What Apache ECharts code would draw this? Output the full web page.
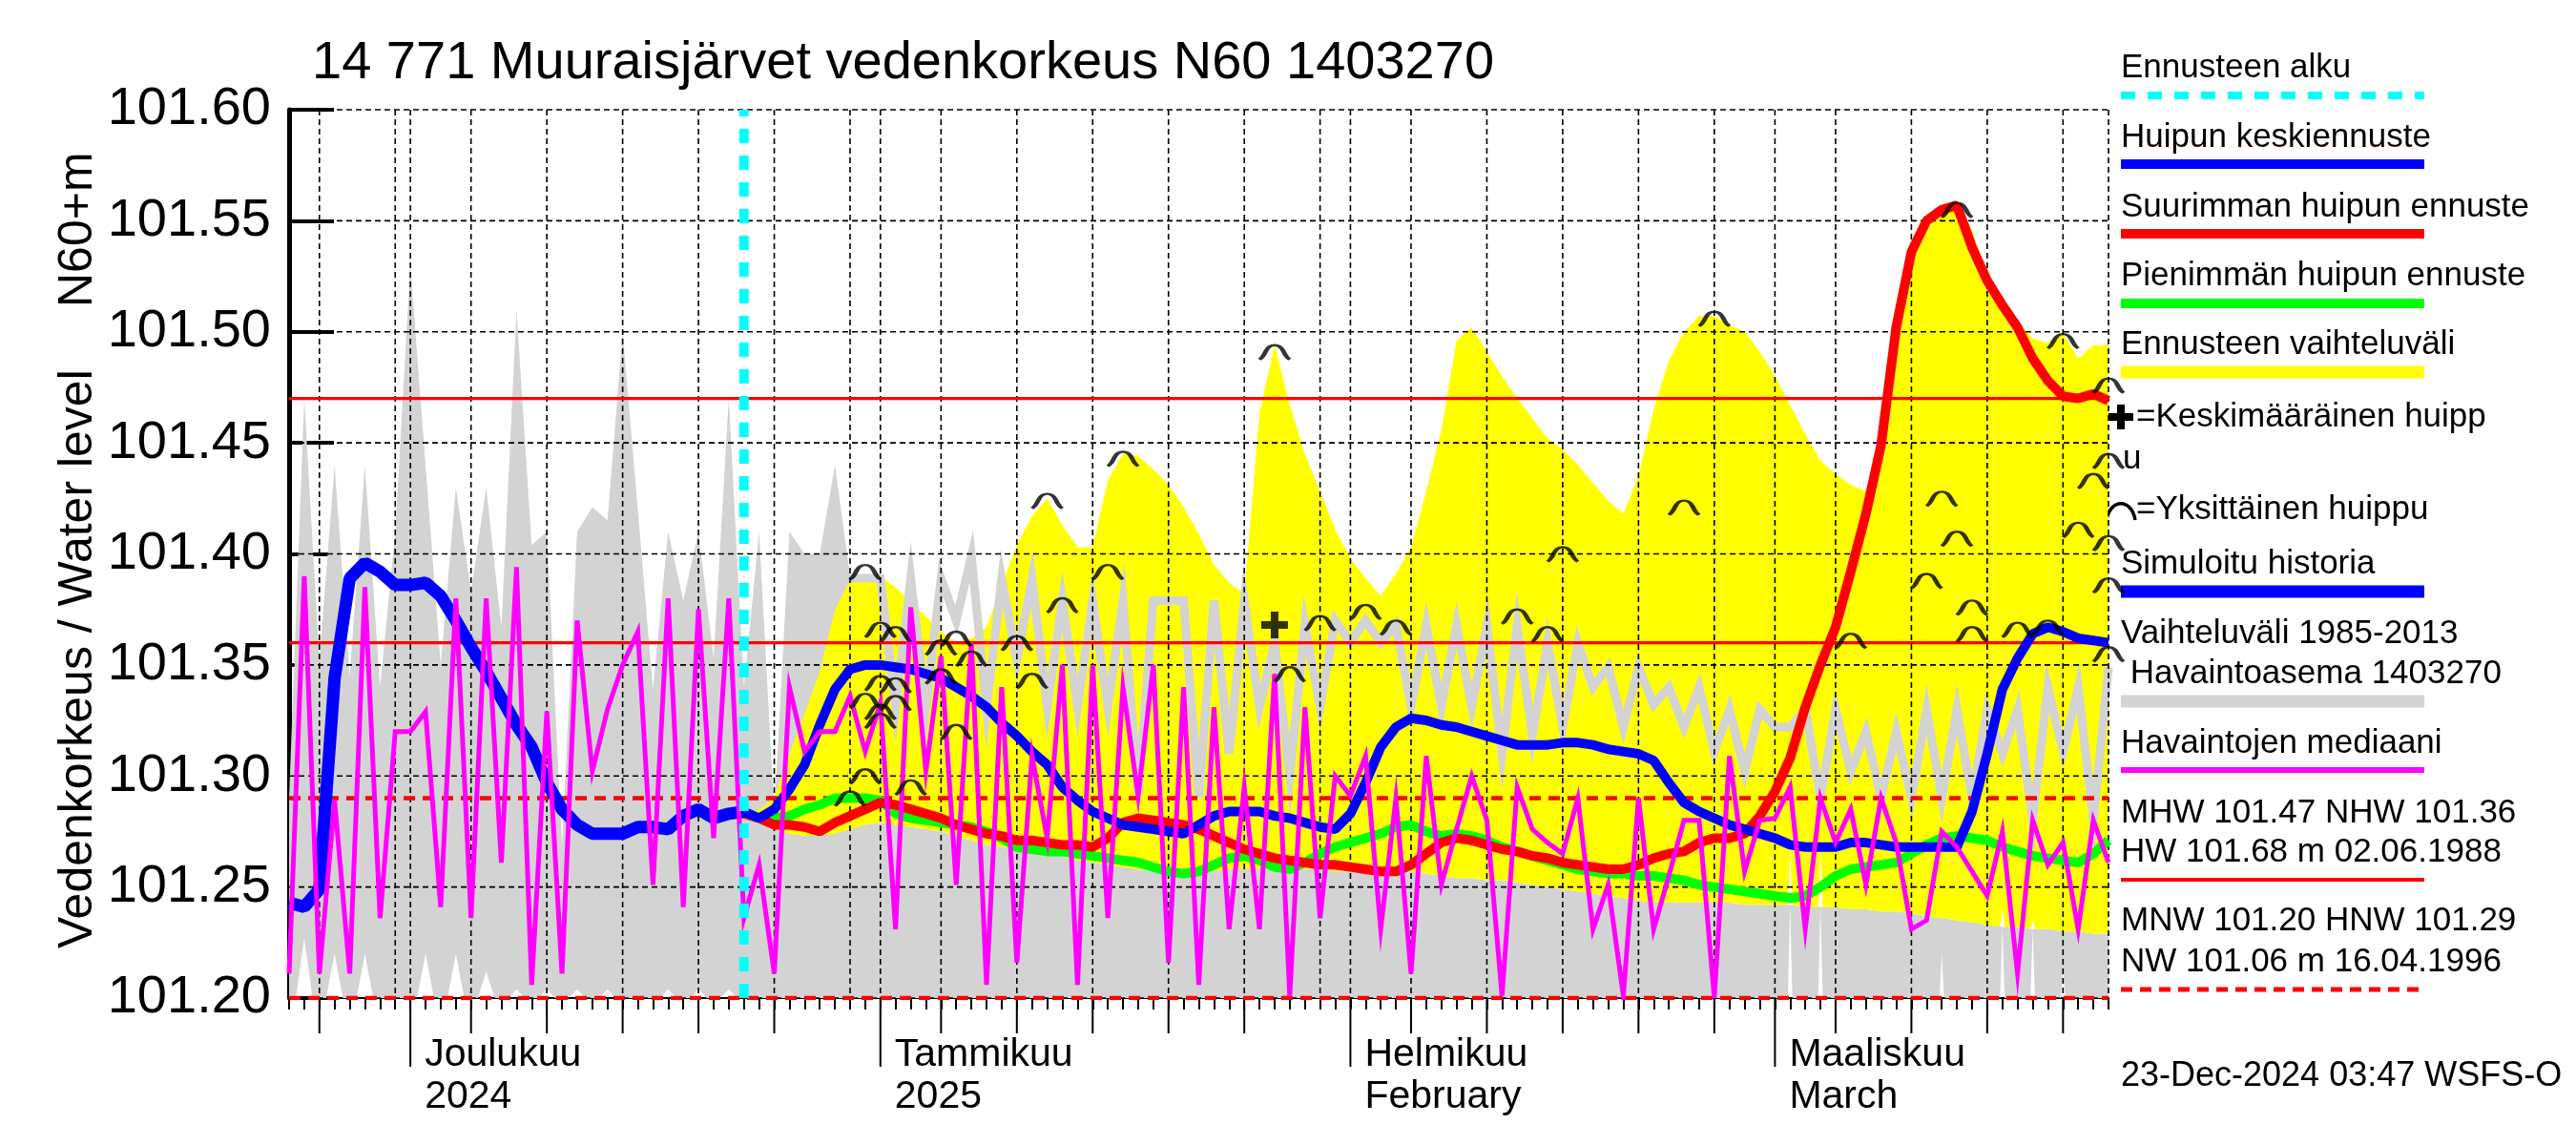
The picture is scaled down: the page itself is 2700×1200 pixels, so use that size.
<!DOCTYPE html>
<html>
<head>
<meta charset="utf-8">
<script src="https://cdn.jsdelivr.net/npm/echarts@6/dist/echarts.min.js"></script>
<style>html,body{margin:0;padding:0;background:#fff}#c{width:2700px;height:1200px}</style>
</head>
<body>
<div id="c"></div>
<script>
// ---------- data (x = day index from 23.11.2024) ----------
const startDate = '2024-11-23';
const X_MIN = 0, X_MAX = 120;
const Y_MIN = 101.20, Y_MAX = 101.60;
const yTicks = [101.20,101.25,101.30,101.35,101.40,101.45,101.50,101.55,101.60];
const forecastStart = 30; // 23.12.2024

// gridline / tick days
const gridDays = [2,7,8,12,17,22,27,32,37,39,43,48,53,58,63,68,70,74,79,84,89,94,98,102,107,112,117,120];
const midTickDays = [2,12,17,22,27,32,43,48,53,58,63,74,79,84,89,94,102,107,112,117];
const monthTickDays = [8,39,70,98];
const monthLabels = [['Joulukuu','2024'],['Tammikuu','2025'],['Helmikuu','February'],['Maaliskuu','March']];

// reference levels
const MHW = 101.47, NHW = 101.36, HNW = 101.29, MNW = 101.20;

// Vaihteluväli 1985-2013 (grey range) upper limit, daily d0..d120
const rangeUpper = [
101.29,101.47,101.352,101.44,101.345,101.44,101.34,101.41,101.53,101.44,
101.35,101.43,101.383,101.43,101.367,101.51,101.404,101.41,101.269,101.41,
101.421,101.415,101.50,101.42,101.339,101.41,101.379,101.41,101.353,101.47,
101.34,101.41,101.283,101.41,101.40,101.40,101.44,101.39,101.278,101.279,
101.278,101.277,101.276,101.275,101.273,101.271,101.269,101.268,101.267,101.266,
101.265,101.264,101.262,101.261,101.26,101.259,101.258,101.257,101.256,101.256,
101.257,101.257,101.258,101.258,101.258,101.258,101.258,101.258,101.258,101.257,
101.257,101.257,101.257,101.257,101.257,101.256,101.255,101.254,101.254,101.253,
101.253,101.252,101.251,101.25,101.249,101.248,101.247,101.246,101.245,101.244,
101.243,101.243,101.243,101.243,101.243,101.243,101.242,101.242,101.242,101.242,
101.241,101.241,101.241,101.24,101.24,101.239,101.239,101.238,101.237,101.236,
101.235,101.234,101.233,101.232,101.232,101.231,101.231,101.23,101.23,101.229,
101.229];
// lower limit is below the chart except for these days [day, level]
const rangeLowHistory = [[1,101.227],[3,101.22],[5,101.22],[9,101.22],[11,101.22],[13,101.212],
  [15,101.204],[17,101.204],[19,101.204],[21,101.204],[25,101.204],[27,101.204],[29,101.204]];
const rangeLowForecast = [[99,101.268],[101,101.268],[109,101.22],[113,101.24],[115,101.235],[117,101.213]];

// Havaintoasema 1403270 (grey line), from d37
const stationStart = 37;
const stationLine = [
101.389,101.389,101.389,
101.331,101.389,101.331,101.389,101.37,101.399,101.33,101.389,101.352,101.389,
101.331,101.379,101.331,101.379,101.331,101.379,101.292,101.379,101.379,101.379,
101.29,101.379,101.31,101.379,101.331,101.36,101.30,101.368,101.331,101.37,
101.36,101.37,101.36,101.368,101.331,101.368,101.331,101.368,101.331,101.368,
101.31,101.368,101.318,101.36,101.322,101.36,101.34,101.349,101.322,101.349,
101.332,101.34,101.322,101.34,101.311,101.33,101.302,101.33,101.322,101.322,
101.33,101.29,101.33,101.302,101.32,101.29,101.32,101.29,101.33,101.29,
101.33,101.29,101.33,101.31,101.33,101.28,101.34,101.311,101.34,101.28,101.349];

// Havaintojen mediaani (magenta), d0..d120
const median = [
101.211,101.39,101.211,101.289,101.211,101.385,101.236,101.32,101.32,101.329,
101.241,101.38,101.236,101.38,101.261,101.394,101.206,101.329,101.211,101.37,
101.302,101.33,101.35,101.365,101.251,101.38,101.241,101.375,101.272,101.38,
101.236,101.26,101.211,101.34,101.311,101.32,101.32,101.336,101.311,101.333,
101.231,101.376,101.302,101.354,101.251,101.36,101.206,101.34,101.216,101.309,
101.272,101.35,101.206,101.35,101.236,101.34,101.291,101.35,101.216,101.34,
101.206,101.331,101.231,101.295,101.231,101.346,101.201,101.331,101.236,101.30,
101.291,101.309,101.231,101.29,101.211,101.309,101.251,101.276,101.30,101.28,
101.201,101.295,101.276,101.27,101.265,101.29,101.231,101.251,101.201,101.29,
101.231,101.255,101.28,101.28,101.20,101.309,101.257,101.28,101.281,101.295,
101.231,101.29,101.27,101.285,101.251,101.29,101.27,101.231,101.235,101.275,
101.268,101.257,101.246,101.275,101.211,101.28,101.26,101.27,101.231,101.28,
101.261];

// Simuloitu historia (blue), d0..d30
const simHistory = [
101.243,101.241,101.249,101.344,101.389,101.396,101.392,101.386,101.386,101.387,
101.381,101.37,101.358,101.347,101.335,101.323,101.313,101.297,101.285,101.278,
101.274,101.274,101.274,101.277,101.277,101.276,101.282,101.285,101.281,101.283,
101.284];

// forecasts, d30..d120
const fcMean = [
101.284,101.281,101.285,101.294,101.305,101.323,101.339,101.348,101.35,101.35,
101.349,101.348,101.346,101.344,101.34,101.336,101.331,101.324,101.318,101.311,
101.305,101.295,101.289,101.284,101.281,101.278,101.277,101.276,101.275,101.274,
101.278,101.282,101.284,101.284,101.284,101.282,101.281,101.279,101.277,101.276,
101.283,101.297,101.313,101.322,101.326,101.325,101.323,101.322,101.32,101.318,
101.316,101.314,101.314,101.314,101.315,101.315,101.314,101.312,101.311,101.31,
101.307,101.297,101.288,101.284,101.281,101.278,101.276,101.274,101.272,101.269,
101.268,101.268,101.268,101.27,101.27,101.269,101.268,101.268,101.268,101.268,
101.268,101.284,101.31,101.339,101.353,101.364,101.367,101.365,101.362,101.361,
101.36];
const fcMax = [
101.283,101.281,101.278,101.278,101.277,101.275,101.279,101.282,101.285,101.288,
101.287,101.285,101.283,101.281,101.278,101.276,101.274,101.273,101.271,101.271,
101.27,101.269,101.269,101.268,101.272,101.279,101.281,101.28,101.279,101.278,
101.276,101.273,101.27,101.267,101.265,101.263,101.262,101.261,101.26,101.26,
101.259,101.258,101.257,101.257,101.26,101.265,101.27,101.272,101.271,101.269,
101.267,101.266,101.264,101.263,101.261,101.26,101.259,101.258,101.258,101.26,
101.263,101.265,101.266,101.27,101.272,101.272,101.274,101.282,101.293,101.308,
101.331,101.35,101.367,101.392,101.418,101.449,101.502,101.536,101.55,101.555,
101.557,101.538,101.523,101.512,101.502,101.488,101.478,101.471,101.47,101.472,
101.469];
const fcMin = [
101.283,101.281,101.281,101.282,101.285,101.287,101.29,101.29,101.29,101.289,
101.283,101.281,101.28,101.279,101.278,101.277,101.275,101.272,101.268,101.267,
101.266,101.266,101.265,101.264,101.263,101.262,101.261,101.259,101.257,101.256,
101.257,101.26,101.263,101.264,101.262,101.259,101.258,101.261,101.265,101.268,
101.27,101.272,101.274,101.277,101.278,101.275,101.273,101.274,101.273,101.271,
101.268,101.266,101.264,101.262,101.26,101.258,101.257,101.256,101.256,101.255,
101.255,101.254,101.253,101.251,101.25,101.249,101.248,101.247,101.246,101.245,
101.246,101.25,101.255,101.258,101.259,101.26,101.261,101.265,101.269,101.272,
101.273,101.272,101.271,101.268,101.266,101.264,101.263,101.262,101.261,101.265,
101.271];
// Ennusteen vaihteluväli (yellow), d30..d120
const bandUpper = [
101.283,101.285,101.29,101.31,101.328,101.347,101.375,101.388,101.391,101.39,
101.385,101.378,101.372,101.365,101.36,101.362,101.367,101.386,101.404,101.417,
101.425,101.413,101.403,101.403,101.433,101.445,101.444,101.438,101.431,101.421,
101.409,101.395,101.387,101.382,101.463,101.494,101.467,101.445,101.428,101.411,
101.398,101.389,101.381,101.391,101.403,101.428,101.456,101.496,101.502,101.491,
101.48,101.47,101.461,101.452,101.447,101.44,101.432,101.424,101.418,101.435,
101.465,101.487,101.50,101.507,101.507,101.503,101.50,101.491,101.48,101.467,
101.454,101.442,101.436,101.431,101.428,101.449,101.502,101.536,101.55,101.556,
101.558,101.546,101.525,101.514,101.505,101.497,101.495,101.499,101.488,101.494,
101.494];
const bandLower = [
101.283,101.279,101.276,101.274,101.273,101.273,101.274,101.276,101.278,101.279,
101.278,101.277,101.276,101.275,101.273,101.271,101.269,101.268,101.267,101.266,
101.265,101.264,101.262,101.261,101.26,101.259,101.258,101.257,101.256,101.256,
101.257,101.257,101.258,101.258,101.258,101.258,101.258,101.258,101.258,101.257,
101.257,101.257,101.257,101.257,101.257,101.256,101.255,101.254,101.254,101.253,
101.253,101.252,101.251,101.25,101.249,101.248,101.247,101.246,101.245,101.244,
101.243,101.243,101.243,101.243,101.243,101.243,101.242,101.242,101.242,101.242,
101.241,101.241,101.241,101.24,101.24,101.239,101.239,101.238,101.237,101.236,
101.235,101.234,101.233,101.232,101.232,101.231,101.231,101.23,101.23,101.229,
101.229];

// Yksittäinen huippu (single peaks) [day, level]
const singlePeaks = [
[38,101.395],[55,101.446],[50,101.427],[54,101.395],[51,101.38],[39,101.369],[40,101.367],
[43,101.361],[44,101.365],[45,101.356],[48,101.363],[49,101.346],[39,101.345],[40,101.344],
[43,101.348],[38,101.337],[39,101.332],[40,101.336],[39,101.328],[44,101.323],[38,101.303],
[41,101.298],[37,101.293],
[65,101.494],[68,101.372],[71,101.377],[73,101.37],[66,101.349],[81,101.375],[83,101.367],[84,101.403],
[94,101.509],[92,101.424],[110,101.558],[117,101.499],[120,101.479],[109,101.428],[120,101.445],
[119,101.436],[110,101.41],[118,101.414],[120,101.408],[108,101.391],[120,101.389],[111,101.379],
[111,101.367],[103,101.364],[114,101.369],[116,101.37],[120,101.358]];
// Keskimääräinen huippu (mean peak)
const meanPeak = [[65,101.368]];

// ---------- helpers ----------
const FONT = '"Liberation Sans", Arial, Helvetica, sans-serif';
const pairs = (arr, x0) => arr.map((v, i) => [x0 + i, v]);
const HIST_SPIKE_W = 0.55, FC_SPIKE_W = 0.15;

function interp(arr, x0, x) {
  const t = x - x0, i = Math.max(0, Math.min(arr.length - 1, Math.floor(t)));
  const j = Math.min(arr.length - 1, i + 1), f = t - i;
  return arr[i] + (arr[j] - arr[i]) * f;
}
// lower boundary (ascending x) with narrow notches cut up from below
function lowerBoundary(baseArr, x0, notches, cap) {
  const used = [];
  notches.forEach(([d, h, w]) => {
    if (d < x0 || d > x0 + baseArr.length - 1) return;
    let top = h;
    if (cap) top = Math.min(top, interp(cap.arr, cap.x0, d));
    if (top <= interp(baseArr, x0, d)) return;
    used.push([d, top, w]);
  });
  const pts = [];
  baseArr.forEach((v, i) => {
    const x = x0 + i;
    if (!used.some(([d, , w]) => Math.abs(x - d) < w + 1e-9)) pts.push([x, v]);
  });
  used.forEach(([d, top, w]) => {
    pts.push([d - w, interp(baseArr, x0, d - w)], [d, top], [d + w, interp(baseArr, x0, d + w)]);
  });
  pts.sort((a, b) => a[0] - b[0]);
  return pts;
}
function polyRender(upperPts, lowerPts, color) {
  return function (params, api) {
    const pts = [];
    upperPts.forEach(p => pts.push(api.coord(p)));
    for (let i = lowerPts.length - 1; i >= 0; i--) pts.push(api.coord(lowerPts[i]));
    return { type: 'polygon', shape: { points: pts }, style: { fill: color } };
  };
}
const notchesHist = rangeLowHistory.map(([d, h]) => [d, h, HIST_SPIKE_W]);
const notchesFc = rangeLowForecast.map(([d, h]) => [d, h, FC_SPIKE_W]);
const baseline = rangeUpper.map(() => Y_MIN);
const rangeLowerPts = lowerBoundary(baseline, 0, notchesHist.concat(notchesFc), { arr: rangeUpper, x0: 0 });
const bandLowerPts = lowerBoundary(bandLower, forecastStart, notchesFc, null);

// grid & tick items: [x, y, kind, labelIndex]
const gridItems = [];
gridDays.forEach(d => gridItems.push([d, Y_MIN, 0, -1]));
yTicks.forEach(v => gridItems.push([X_MIN, v, 3, -1]));
midTickDays.forEach(d => gridItems.push([d, Y_MIN, 1, -1]));
monthTickDays.forEach((d, i) => gridItems.push([d, Y_MIN, 2, i]));

function gridRender(params, api) {
  const d = api.value(0), v = api.value(1), kind = api.value(2), li = api.value(3);
  const ch = [];
  const dash = { stroke: '#000', lineWidth: 1.6, lineDash: [6, 4] };
  if (kind === 0) {
    const a = api.coord([d, Y_MAX]), b = api.coord([d, Y_MIN]);
    ch.push({ type: 'line', shape: { x1: a[0], y1: a[1], x2: b[0], y2: b[1] }, style: dash });
  } else if (kind === 3) {
    const a = api.coord([X_MIN, v]), b = api.coord([X_MAX, v]);
    ch.push({ type: 'line', shape: { x1: a[0], y1: a[1], x2: b[0], y2: b[1] }, style: dash });
  } else if (kind === 1) {
    const b = api.coord([d, Y_MIN]);
    ch.push({ type: 'line', shape: { x1: b[0], y1: b[1], x2: b[0], y2: b[1] + 37 }, style: { stroke: '#000', lineWidth: 2 } });
  } else if (kind === 2) {
    const b = api.coord([d, Y_MIN]);
    ch.push({ type: 'line', shape: { x1: b[0], y1: b[1], x2: b[0], y2: b[1] + 72 }, style: { stroke: '#000', lineWidth: 2 } });
    const lab = monthLabels[li];
    ch.push({ type: 'text', style: { x: b[0] + 15, y: b[1] + 60, text: lab[0], font: '41px ' + FONT, fill: '#000',
      textAlign: 'left', textVerticalAlign: 'middle', align: 'left', verticalAlign: 'middle' } });
    ch.push({ type: 'text', style: { x: b[0] + 15, y: b[1] + 104, text: lab[1], font: '41px ' + FONT, fill: '#000',
      textAlign: 'left', textVerticalAlign: 'middle', align: 'left', verticalAlign: 'middle' } });
  }
  return { type: 'group', children: ch };
}

function refLine(v, dashed, z) {
  return { type: 'line', data: [[X_MIN, v], [X_MAX, v]], symbol: 'none', z: z, silent: true,
    lineStyle: { color: '#ff0000', width: dashed ? 4.5 : 3.2, type: dashed ? [12, 8] : 'solid' } };
}

const ARC = 'path://M0,16 C3,15 5,11 7,7 C11,-1 21,-1 25,7 C27,11 29,15 32,16';
const PLUS = 'path://M10,0H18V10H28V18H18V28H10V18H0V10H10Z';

// ---------- legend graphics ----------
const LX = 2223, LR = 2541;
function gtext(t, x, y, size) {
  return { type: 'text', x: x, y: y, style: { text: t, font: (size || 35) + 'px ' + FONT, fill: '#000',
    textAlign: 'left', textVerticalAlign: 'middle', align: 'left', verticalAlign: 'middle' } };
}
function gline(y, color, w, dash) {
  return { type: 'line', shape: { x1: LX, y1: y, x2: LR, y2: y },
    style: { stroke: color, lineWidth: w, lineDash: dash || null } };
}
const graphics = [
  gtext('14 771 Muuraisjärvet vedenkorkeus N60 1403270', 327, 67, 56),
  { type: 'text', x: 82, y: 994, rotation: Math.PI / 2, style: { text: 'Vedenkorkeus / Water level', font: '50px ' + FONT, fill: '#000', textAlign: 'left', textVerticalAlign: 'middle', align: 'left', verticalAlign: 'middle' } },
  { type: 'text', x: 82, y: 322, rotation: Math.PI / 2, style: { text: 'N60+m', font: '50px ' + FONT, fill: '#000', textAlign: 'left', textVerticalAlign: 'middle', align: 'left', verticalAlign: 'middle' } },
  gtext('Ennusteen alku', LX, 71), gline(100, '#00ffff', 8, [15, 13]),
  gtext('Huipun keskiennuste', LX, 144), gline(172, '#0000ff', 10),
  gtext('Suurimman huipun ennuste', LX, 217), gline(245, '#ff0000', 10),
  gtext('Pienimmän huipun ennuste', LX, 289), gline(318, '#00ff00', 10),
  gtext('Ennusteen vaihteluväli', LX, 361), gline(390, '#ffff00', 13),
  { type: 'polygon', shape: { points: [[2219,424],[2227,424],[2227,433],[2236,433],[2236,441],[2227,441],[2227,450],[2219,450],[2219,441],[2210,441],[2210,433],[2219,433]] }, style: { fill: '#000' } },
  gtext('=Keskimääräinen huipp', 2239, 437), gtext('u', 2225, 481),
  { type: 'bezierCurve', shape: { x1: 2208, y1: 545, cpx1: 2212, cpy1: 522, cpx2: 2234, cpy2: 522, x2: 2238, y2: 545 }, style: { stroke: '#000', lineWidth: 3.5, fill: null } },
  gtext('=Yksittäinen huippu', 2239, 534),
  gtext('Simuloitu historia', LX, 591), gline(620, '#0000ff', 13),
  gtext('Vaihteluväli 1985-2013', LX, 664), gtext(' Havaintoasema 1403270', LX, 706), gline(735, '#d3d3d3', 13),
  gtext('Havaintojen mediaani', LX, 779), gline(807, '#ff00ff', 6),
  gtext('MHW ' + MHW.toFixed(2) + ' NHW ' + NHW.toFixed(2), LX, 852), gtext('HW 101.68 m 02.06.1988', LX, 893), gline(922, '#ff0000', 4),
  gtext('MNW ' + MNW.toFixed(2) + ' HNW ' + HNW.toFixed(2), LX, 965), gtext('NW 101.06 m 16.04.1996', LX, 1008), gline(1037, '#ff0000', 5, [12, 8]),
  gtext('23-Dec-2024 03:47 WSFS-O', LX, 1128, 36)
];

// ---------- chart ----------
const chart = echarts.init(document.getElementById('c'), null, { renderer: 'canvas' });
chart.setOption({
  animation: false,
  backgroundColor: '#fff',
  grid: { left: 303, right: 490, top: 115, bottom: 154, containLabel: false },
  xAxis: {
    type: 'value', min: X_MIN, max: X_MAX, interval: 1,
    axisLine: { show: true, lineStyle: { color: '#000', width: 2 } },
    axisTick: { show: true, inside: false, length: 12, lineStyle: { color: '#000', width: 2 } },
    axisLabel: { show: false }, splitLine: { show: false }
  },
  yAxis: {
    type: 'value', min: Y_MIN, max: Y_MAX, interval: 0.05,
    axisLine: { show: true, lineStyle: { color: '#000', width: 5 } },
    axisTick: { show: true, inside: true, length: 47, lineStyle: { color: '#000', width: 4 } },
    axisLabel: { show: true, margin: 19, fontSize: 56, fontFamily: FONT, color: '#000', formatter: v => v.toFixed(2) },
    splitLine: { show: false }
  },
  graphic: { elements: graphics },
  series: [
    { type: 'custom', name: 'Vaihteluväli 1985-2013', data: [[0, Y_MIN]], clip: true, z: 1, silent: true,
      renderItem: polyRender(pairs(rangeUpper, 0), rangeLowerPts, '#d3d3d3') },
    { type: 'custom', name: 'Ennusteen vaihteluväli', data: [[forecastStart, Y_MIN]], clip: true, z: 2, silent: true,
      renderItem: polyRender(pairs(bandUpper, forecastStart), bandLowerPts, '#ffff00') },
    { type: 'line', name: 'Havaintoasema 1403270', data: pairs(stationLine, stationStart), symbol: 'none', z: 3,
      lineStyle: { color: '#d3d3d3', width: 9, join: 'miter' } },
    { type: 'custom', name: 'grid', data: gridItems, clip: false, z: 4, silent: true, renderItem: gridRender },
    refLine(MHW, false, 5), refLine(NHW, false, 5), refLine(HNW, true, 5), refLine(MNW, true, 5),
    { type: 'line', name: 'Pienimmän huipun ennuste', data: pairs(fcMin, forecastStart), symbol: 'none', z: 6,
      lineStyle: { color: '#00ff00', width: 10 } },
    { type: 'line', name: 'Suurimman huipun ennuste', data: pairs(fcMax, forecastStart), symbol: 'none', z: 7,
      lineStyle: { color: '#ff0000', width: 10 } },
    { type: 'line', name: 'Simuloitu historia', data: pairs(simHistory, 0), symbol: 'none', z: 8,
      lineStyle: { color: '#0000ff', width: 13 } },
    { type: 'line', name: 'Huipun keskiennuste', data: pairs(fcMean, forecastStart), symbol: 'none', z: 8,
      lineStyle: { color: '#0000ff', width: 10 } },
    { type: 'line', name: 'Havaintojen mediaani', data: pairs(median, 0), symbol: 'none', z: 9,
      lineStyle: { color: '#ff00ff', width: 5, join: 'miter' } },
    { type: 'line', name: 'Ennusteen alku', data: [[forecastStart, Y_MIN], [forecastStart, Y_MAX]], symbol: 'none', z: 10,
      lineStyle: { color: '#00ffff', width: 10, type: [15, 13] } },
    { type: 'scatter', name: 'Yksittäinen huippu', data: singlePeaks, symbol: ARC, symbolSize: [32, 15],
      symbolOffset: [0, '50%'], z: 11, clip: false,
      itemStyle: { color: 'rgba(0,0,0,0)', borderColor: '#000', borderWidth: 3.5 } },
    { type: 'scatter', name: 'Keskimääräinen huippu', data: meanPeak, symbol: PLUS, symbolSize: [28, 28], z: 11,
      itemStyle: { color: '#000' } }
  ]
});
</script>
</body>
</html>
